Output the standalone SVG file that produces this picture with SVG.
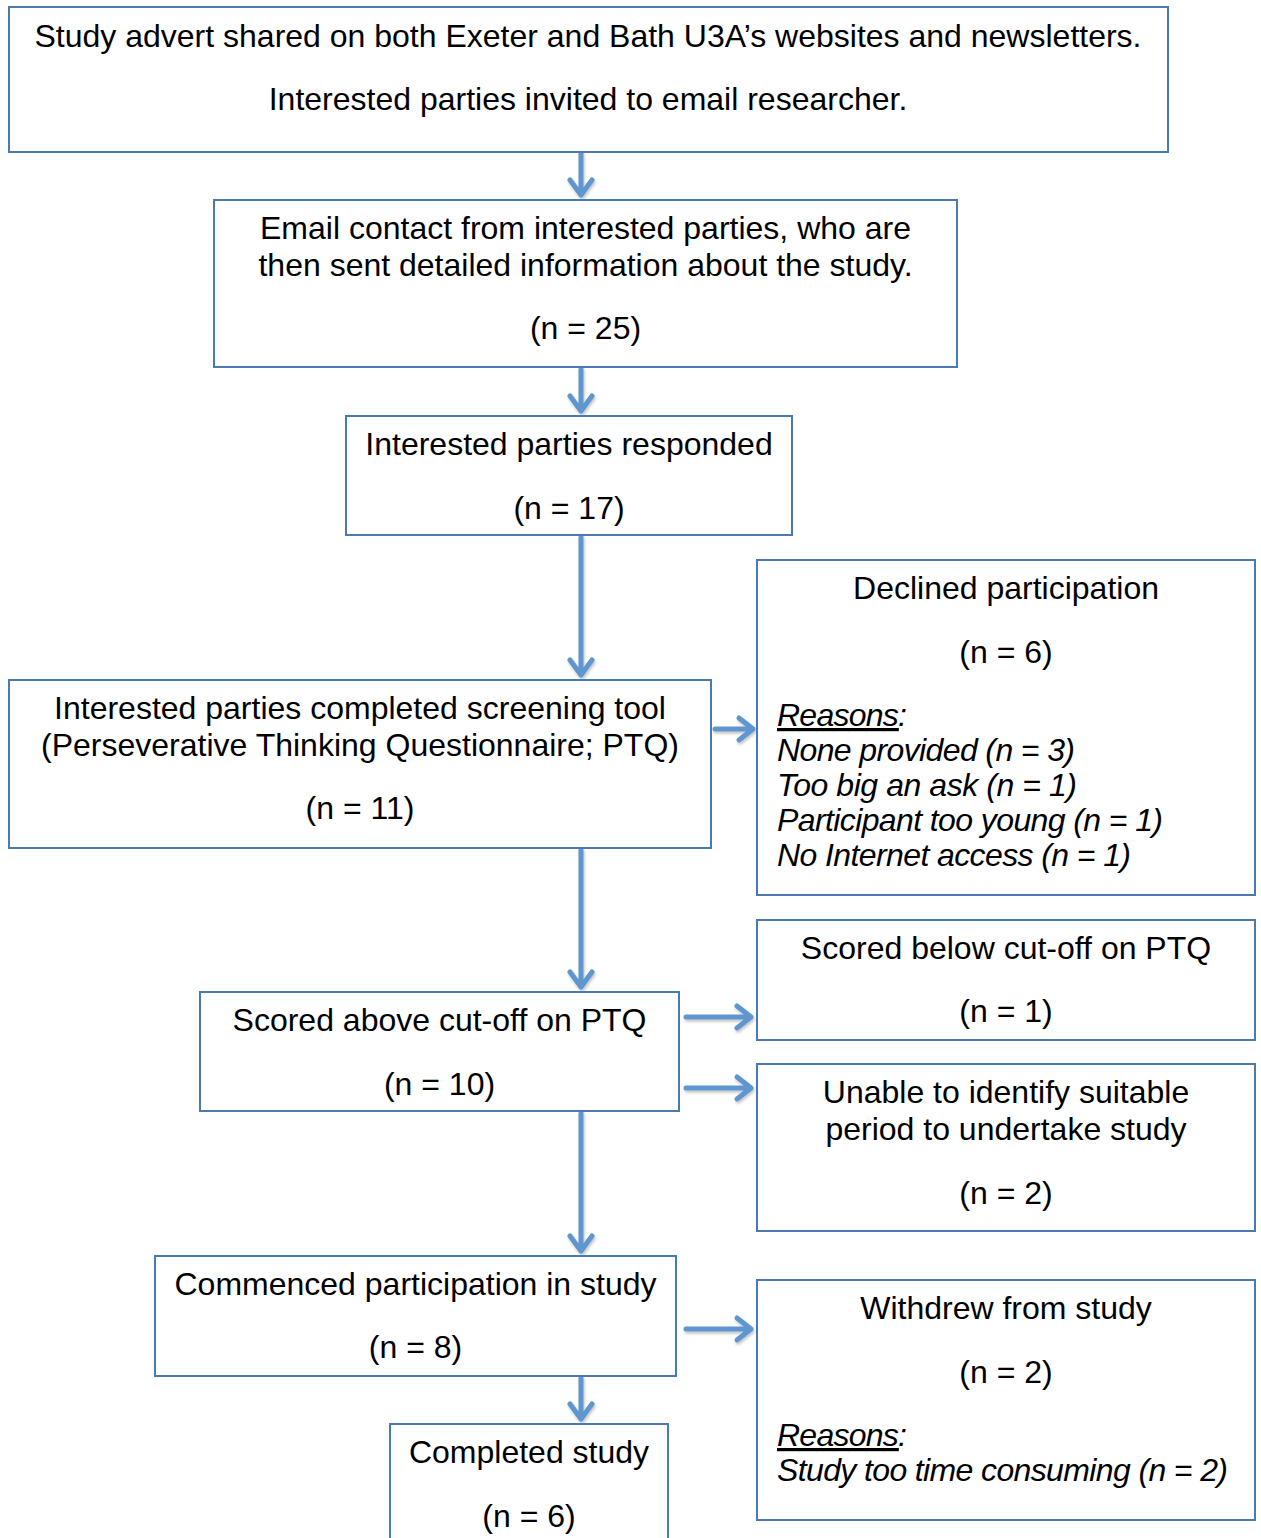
<svg xmlns="http://www.w3.org/2000/svg" width="1261" height="1538" viewBox="0 0 1261 1538">
<defs>
<style>
.box{fill:#fff;stroke:#4a7ab5;stroke-width:2}
text{font-family:"Liberation Sans",Arial,sans-serif;font-size:32px;fill:#000}
.c{text-anchor:middle}
.i{font-style:italic}
.arr{fill:none;stroke:#5f96cf;stroke-width:5;stroke-linecap:round;stroke-linejoin:round}
</style>
<filter id="sh" x="-50%" y="-50%" width="200%" height="200%">
<feDropShadow dx="1" dy="2" stdDeviation="1.5" flood-color="#000" flood-opacity="0.25"/>
</filter>
</defs>
<rect width="1261" height="1538" fill="#fff"/>
<g id="connectors" filter="url(#sh)">
<path class="arr" d="M581 153V195M570 180L581 195L592 180"/>
<path class="arr" d="M581 369V411M570 396L581 411L592 396"/>
<path class="arr" d="M581 537V675M570 660L581 675L592 660"/>
<path class="arr" d="M581 850V987M570 972L581 987L592 972"/>
<path class="arr" d="M581 1113V1251M570 1236L581 1251L592 1236"/>
<path class="arr" d="M581 1378V1419M570 1404L581 1419L592 1404"/>
<path class="arr" d="M715 729H753M739 718L753 729L739 740"/>
<path class="arr" d="M686 1017H751M737 1006L751 1017L737 1028"/>
<path class="arr" d="M686 1088H751M737 1077L751 1088L737 1099"/>
<path class="arr" d="M686 1329H751M737 1318L751 1329L737 1340"/>
</g>
<g id="n1"><rect class="box" x="9" y="7" width="1159" height="145"/>
<text class="c" x="588" y="47">Study advert shared on both Exeter and Bath U3A’s websites and newsletters.</text>
<text class="c" x="588" y="110">Interested parties invited to email researcher.</text></g>
<g id="n2"><rect class="box" x="214" y="200" width="743" height="167"/>
<text class="c" x="585.5" y="239">Email contact from interested parties, who are</text>
<text class="c" x="585.5" y="276">then sent detailed information about the study.</text>
<text class="c" x="585.5" y="339">(n = 25)</text></g>
<g id="n3"><rect class="box" x="346" y="416" width="446" height="119"/>
<text class="c" x="569" y="455">Interested parties responded</text>
<text class="c" x="569" y="519">(n = 17)</text></g>
<g id="n4"><rect class="box" x="757" y="560" width="498" height="335"/>
<text class="c" x="1006" y="599">Declined participation</text>
<text class="c" x="1006" y="663">(n = 6)</text>
<text class="i" x="777" y="726" textLength="130" lengthAdjust="spacing"><tspan text-decoration="underline">Reasons</tspan>:</text>
<text class="i" x="777" y="761" textLength="298" lengthAdjust="spacing">None provided (n = 3)</text>
<text class="i" x="777" y="796" textLength="300" lengthAdjust="spacing">Too big an ask (n = 1)</text>
<text class="i" x="777" y="831" textLength="386" lengthAdjust="spacing">Participant too young (n = 1)</text>
<text class="i" x="777" y="866" textLength="354" lengthAdjust="spacing">No Internet access (n = 1)</text></g>
<g id="n5"><rect class="box" x="9" y="680" width="702" height="168"/>
<text class="c" x="360" y="719">Interested parties completed screening tool</text>
<text class="c" x="360" y="756">(Perseverative Thinking Questionnaire; PTQ)</text>
<text class="c" x="360" y="819">(n = 11)</text></g>
<g id="n6"><rect class="box" x="757" y="920" width="498" height="120"/>
<text class="c" x="1006" y="959">Scored below cut-off on PTQ</text>
<text class="c" x="1006" y="1022">(n = 1)</text></g>
<g id="n7"><rect class="box" x="200" y="992" width="479" height="119"/>
<text class="c" x="439.5" y="1031">Scored above cut-off on PTQ</text>
<text class="c" x="439.5" y="1095">(n = 10)</text></g>
<g id="n8"><rect class="box" x="757" y="1064" width="498" height="167"/>
<text class="c" x="1006" y="1103">Unable to identify suitable</text>
<text class="c" x="1006" y="1140">period to undertake study</text>
<text class="c" x="1006" y="1204">(n = 2)</text></g>
<g id="n9"><rect class="box" x="155" y="1256" width="521" height="120"/>
<text class="c" x="415.5" y="1295">Commenced participation in study</text>
<text class="c" x="415.5" y="1358">(n = 8)</text></g>
<g id="n10"><rect class="box" x="757" y="1280" width="498" height="240"/>
<text class="c" x="1006" y="1319">Withdrew from study</text>
<text class="c" x="1006" y="1383">(n = 2)</text>
<text class="i" x="777" y="1446" textLength="130" lengthAdjust="spacing"><tspan text-decoration="underline">Reasons</tspan>:</text>
<text class="i" x="777" y="1481" textLength="451" lengthAdjust="spacing">Study too time consuming (n = 2)</text></g>
<g id="n11"><rect class="box" x="390" y="1424" width="278" height="130"/>
<text class="c" x="529" y="1463">Completed study</text>
<text class="c" x="529" y="1527">(n = 6)</text></g>
</svg>
